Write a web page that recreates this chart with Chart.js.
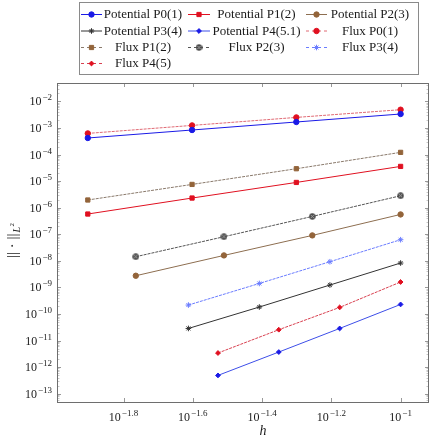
<!DOCTYPE html>
<html>
<head>
<meta charset="utf-8">
<script src="https://cdn.jsdelivr.net/npm/chart.js@4/dist/chart.umd.min.js"></script>
<style>
  html, body { margin: 0; padding: 0; background: #fff; }
  #wrap { width: 434px; height: 436px; position: relative; }
</style>
</head>
<body>
<div id="wrap"><canvas id="errorChart"></canvas></div>
<script>
// mesh sizes h for each group of runs
const hP01 = [0.0125, 0.025, 0.05, 0.1];
const hP2 = [0.0172, 0.0309, 0.0556, 0.1];
const hP3 = [0.0244, 0.0391, 0.0625, 0.1];
const hP4 = [0.0297, 0.0445, 0.0667, 0.1];

// L2 errors
const potentialP0 = [4.20e-4, 8.39e-4, 1.68e-3, 3.36e-3];
const potentialP1 = [5.78e-7, 2.31e-6, 8.93e-6, 3.58e-5];
const potentialP2 = [2.75e-9, 1.60e-8, 9.06e-8, 5.58e-7];
const potentialP3 = [2.86e-11, 1.83e-10, 1.23e-9, 8.28e-9];
const potentialP4 = [4.88e-13, 3.70e-12, 2.86e-11, 2.29e-10];
const fluxP0 = [6.25e-4, 1.25e-3, 2.50e-3, 4.88e-3];
const fluxP1 = [1.95e-6, 7.52e-6, 2.93e-5, 1.21e-4];
const fluxP2 = [1.43e-8, 8.09e-8, 4.70e-7, 2.82e-6];
const fluxP3 = [2.17e-10, 1.41e-9, 9.27e-9, 6.24e-8];
const fluxP4 = [3.40e-12, 2.56e-11, 1.77e-10, 1.60e-9];

// axis ticks (exponents of 10)
const xTickExps = [-1.8, -1.6, -1.4, -1.2, -1];
const yTickExps = [-13, -12, -11, -10, -9, -8, -7, -6, -5, -4, -3, -2];

const SERIF = "'Liberation Serif', 'DejaVu Serif', serif";

function pts(xs, ys) {
    return xs.map((x, i) => ({ x: x, y: ys[i] }));
}

// otimes marker for Flux P2
function makeOtimes() {
    const c = document.createElement("canvas");
    c.width = 7; c.height = 7;
    const g = c.getContext("2d");
    g.fillStyle = "#4a4a4a";
    g.beginPath(); g.arc(3.5, 3.5, 3.2, 0, Math.PI * 2); g.fill();
    g.strokeStyle = "#b0b0b0"; g.lineWidth = 0.9;
    g.beginPath();
    g.moveTo(1.7, 1.7); g.lineTo(5.3, 5.3);
    g.moveTo(5.3, 1.7); g.lineTo(1.7, 5.3);
    g.stroke();
    return c;
}

function series(label, xs, ys, color, style, radius, dashed, lineColor) {
    return {
        label: label,
        data: pts(xs, ys),
        borderColor: lineColor || color,
        backgroundColor: color,
        pointBorderColor: color,
        pointBackgroundColor: color,
        pointStyle: style,
        pointRadius: radius,
        pointBorderWidth: 1,
        borderWidth: 1,
        borderDash: dashed ? [3, 1] : [],
        showLine: true,
        fill: false,
        tension: 0,
    };
}

const BLUE = "#1a1ae6", RED = "#e01020", BROWN = "#93643a", BLACK = "#333333", LBLUE = "#6a7cff";

const datasets = [
    series("Potential P0(1)", hP01, potentialP0, BLUE, "circle", 2.7, false),
    series("Potential P1(2)", hP01, potentialP1, RED, "rect", 3, false),
    series("Potential P2(3)", hP2, potentialP2, BROWN, "circle", 2.7, false, "#8d6e50"),
    series("Potential P3(4)", hP3, potentialP3, BLACK, "star", 2.8, false),
    series("Potential P4(5.1)", hP4, potentialP4, BLUE, "rectRot", 2.4, false, "#3d4ee8"),
    series("Flux P0(1)", hP01, fluxP0, RED, "circle", 2.7, true, "#e06a74"),
    series("Flux P1(2)", hP01, fluxP1, BROWN, "rect", 3, true, "#8a7a6c"),
    series("Flux P2(3)", hP2, fluxP2, "#4a4a4a", makeOtimes(), 3.5, true, "#555555"),
    series("Flux P3(4)", hP3, fluxP3, LBLUE, "star", 2.8, true, "#6a7cff"),
    series("Flux P4(5)", hP4, fluxP4, RED, "rectRot", 2.4, true, "#d84050"),
];

function drawPow(ctx, exp, x, y, align) {
    // "10" with raised exponent; y is baseline of "10"
    const base = "10", sup = String(exp).replace("-", "\u2212");
    ctx.font = "12px " + SERIF;
    const wb = ctx.measureText(base).width;
    ctx.font = "9px " + SERIF;
    const ws = ctx.measureText(sup).width;
    const total = wb + 1 + ws;
    let x0 = x;
    if (align === "right") x0 = x - total;
    if (align === "center") x0 = x - total / 2;
    ctx.textAlign = "left";
    ctx.textBaseline = "alphabetic";
    ctx.font = "12px " + SERIF;
    ctx.fillText(base, x0, y);
    ctx.font = "9px " + SERIF;
    ctx.fillText(sup, x0 + wb + 1, y - 5);
}

const axisPlugin = {
    id: "pgfAxis",
    afterDraw(chart) {
        const { ctx, chartArea } = chart;
        const xs = chart.scales.x, ys = chart.scales.y;
        const L = chartArea.left, R = chartArea.right, T = chartArea.top, B = chartArea.bottom;
        ctx.save();
        ctx.lineWidth = 1;
        // inward ticks on all four sides
        ys.ticks.forEach(t => {
            const y = Math.round(ys.getPixelForValue(t.value)) + 0.5;
            const len = t.major ? 4 : 2.5;
            ctx.strokeStyle = t.major ? "#999" : "#c8c8c8";
            ctx.beginPath();
            ctx.moveTo(L, y); ctx.lineTo(L + len, y);
            ctx.moveTo(R, y); ctx.lineTo(R - len, y);
            ctx.stroke();
        });
        xs.ticks.forEach(t => {
            const x = Math.round(xs.getPixelForValue(t.value)) + 0.5;
            ctx.strokeStyle = "#999";
            ctx.beginPath();
            ctx.moveTo(x, B); ctx.lineTo(x, B - 4);
            ctx.moveTo(x, T); ctx.lineTo(x, T + 4);
            ctx.stroke();
        });
        // frame
        ctx.strokeStyle = "#6e6e6e";
        ctx.strokeRect(Math.round(L) + 0.5, Math.round(T) + 0.5, Math.round(R - L) - 1, Math.round(B - T));
        // tick labels
        ctx.fillStyle = "#1a1a1a";
        yTickExps.forEach(e => {
            const y = ys.getPixelForValue(Math.pow(10, e));
            drawPow(ctx, e, L - 5, y + 4, "right");
        });
        xTickExps.forEach(e => {
            const x = xs.getPixelForValue(Math.pow(10, e));
            drawPow(ctx, e, x, B + 19, "center");
        });
        // axis titles
        ctx.font = "italic 14px " + SERIF;
        ctx.textAlign = "center";
        ctx.fillText("h", (xs.getPixelForValue(Math.pow(10, -1.4)) + 1), B + 33);
        ctx.translate(17, 240);
        ctx.rotate(-Math.PI / 2);
        ctx.textAlign = "left";
        ctx.font = "15px " + SERIF;
        const main = "|| \u00b7 ||";
        const wm = ctx.measureText(main).width;
        ctx.font = "italic 10px " + SERIF;
        const wl = ctx.measureText("L").width;
        const tot = wm + wl + 6;
        ctx.font = "15px " + SERIF;
        ctx.fillText(main, -tot / 2, 0);
        ctx.font = "italic 10px " + SERIF;
        ctx.fillText("L", -tot / 2 + wm + 1, 3);
        ctx.font = "7px " + SERIF;
        ctx.fillText("2", -tot / 2 + wm + 1 + wl + 0.5, -3);
        ctx.restore();
    },
};

const legendPlugin = {
    id: "pgfLegend",
    afterDraw(chart) {
        const ctx = chart.ctx;
        const dp = Chart.helpers.drawPoint;
        const box = { x: 79.5, y: 2.5, w: 339, h: 72 };
        const rows = [14, 30.5, 47, 63];
        const cols = [
            { s0: 81, s1: 102, m: 91.5, t: 143 },
            { s0: 188, s1: 210, m: 199, t: 256.5 },
            { s0: 306, s1: 327, m: 316.5, t: 370 },
        ];
        ctx.save();
        ctx.fillStyle = "#fff";
        ctx.fillRect(box.x, box.y, box.w, box.h);
        ctx.strokeStyle = "#8a8a8a";
        ctx.lineWidth = 1;
        ctx.strokeRect(box.x, box.y, box.w, box.h);
        chart.data.datasets.forEach((ds, i) => {
            const r = rows[Math.floor(i / 3)], c = cols[i % 3];
            ctx.save();
            ctx.strokeStyle = ds.borderColor;
            ctx.lineWidth = 1;
            ctx.setLineDash(ds.borderDash.length ? [3, 3] : []);
            ctx.beginPath();
            ctx.moveTo(c.s0, r + 0.5); ctx.lineTo(c.s1, r + 0.5);
            ctx.stroke();
            ctx.setLineDash([]);
            ctx.fillStyle = ds.pointBackgroundColor;
            ctx.strokeStyle = ds.pointBorderColor;
            dp(ctx, {
                pointStyle: ds.pointStyle,
                radius: ds.pointRadius,
                rotation: 0,
                borderWidth: 1,
            }, c.m, r + 0.5);
            ctx.restore();
            ctx.fillStyle = "#1a1a1a";
            ctx.font = "13px " + SERIF;
            ctx.textAlign = "center";
            ctx.textBaseline = "middle";
            ctx.fillText(ds.label, c.t, r + 1);
        });
        ctx.restore();
    },
};

new Chart(document.getElementById("errorChart"), {
    type: "scatter",
    data: { datasets: datasets },
    options: {
        responsive: true,
        maintainAspectRatio: false,
        animation: false,
        layout: { padding: { top: 83, right: 1, left: 0, bottom: 0 } },
        plugins: {
            legend: { display: false },
            tooltip: { enabled: false },
        },
        scales: {
            x: {
                type: "logarithmic",
                min: Math.pow(10, -1.992),
                max: Math.pow(10, -0.918),
                grid: { display: false },
                border: { display: false },
                ticks: { display: false },
                afterBuildTicks(scale) {
                    scale.ticks = xTickExps.map(e => ({ value: Math.pow(10, e), major: true }));
                },
                afterFit(scale) { scale.height = 34; },
            },
            y: {
                type: "logarithmic",
                min: Math.pow(10, -13.312),
                max: Math.pow(10, -1.307),
                grid: { display: false },
                border: { display: false },
                ticks: { display: false },
                afterBuildTicks(scale) {
                    const out = [];
                    for (let d = -14; d <= -1; d++) {
                        for (let m = 1; m <= 9; m++) {
                            const v = m * Math.pow(10, d);
                            if (v >= scale.min && v <= scale.max) out.push({ value: v, major: m === 1 });
                        }
                    }
                    scale.ticks = out;
                },
                afterFit(scale) { scale.width = 57; },
            },
        },
    },
    plugins: [axisPlugin, legendPlugin],
});
</script>
</body>
</html>
